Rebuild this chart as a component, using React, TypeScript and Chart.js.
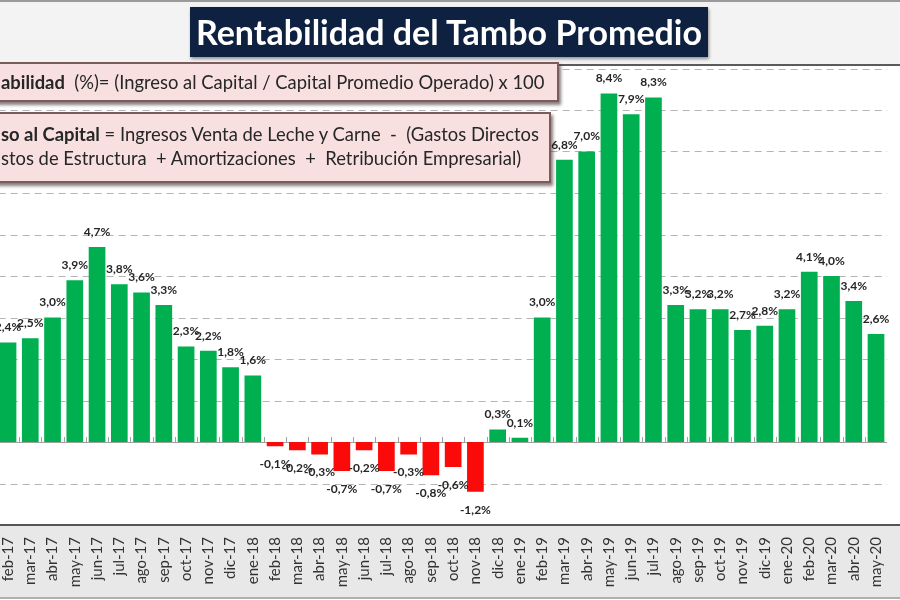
import React, { useEffect, useRef } from 'react';
import { Chart, registerables } from 'chart.js';

Chart.register(...registerables);

// ---- data ----
const months = [
  'ene-17', 'feb-17', 'mar-17', 'abr-17', 'may-17', 'jun-17', 'jul-17', 'ago-17', 'sep-17', 'oct-17', 'nov-17', 'dic-17',
  'ene-18', 'feb-18', 'mar-18', 'abr-18', 'may-18', 'jun-18', 'jul-18', 'ago-18', 'sep-18', 'oct-18', 'nov-18', 'dic-18',
  'ene-19', 'feb-19', 'mar-19', 'abr-19', 'may-19', 'jun-19', 'jul-19', 'ago-19', 'sep-19', 'oct-19', 'nov-19', 'dic-19',
  'ene-20', 'feb-20', 'mar-20', 'abr-20', 'may-20',
];

const rentabilidad: (number | null)[] = [
  null, 2.4, 2.5, 3.0, 3.9, 4.7, 3.8, 3.6, 3.3, 2.3, 2.2, 1.8,
  1.6, -0.1, -0.2, -0.3, -0.7, -0.2, -0.7, -0.3, -0.8, -0.6, -1.2, 0.3,
  0.1, 3.0, 6.8, 7.0, 8.4, 7.9, 8.3, 3.3, 3.2, 3.2, 2.7, 2.8,
  3.2, 4.1, 4.0, 3.4, 2.6,
];

const yMin = -2;
const yMax = 9;
const yStep = 1;

const titleText = 'Rentabilidad del Tambo Promedio';
const box1Bold = 'abilidad';
const box1Rest = '  (%)= (Ingreso al Capital / Capital Promedio Operado) x 100';
const box2Bold = 'so al Capital';
const box2Rest = ' = Ingresos Venta de Leche y Carne  -  (Gastos Directos';
const box2Line2 = 'stos de Estructura  + Amortizaciones  +  Retribución Empresarial)';

const GREEN = '#00b050';
const RED = '#fb0a0a';

const fmt = (v: number) => v.toFixed(1).replace('.', ',') + '%';

// dashed horizontal grid + solid zero axis with category tick marks, positioned via the y / x scales
const gridPlugin = {
  id: 'gridAndZero',
  beforeDatasetsDraw(chart: any) {
    const { ctx, chartArea, scales } = chart;
    const ys = scales.y;
    const xs = scales.x;
    ctx.save();
    ctx.strokeStyle = '#b4b4b4';
    ctx.lineWidth = 1;
    ctx.setLineDash([7, 5]);
    for (let v = yMin + yStep; v <= yMax; v += yStep) {
      if (v === 0) continue;
      const py = Math.round(ys.getPixelForValue(v)) + 0.5;
      ctx.beginPath();
      ctx.moveTo(chartArea.left, py);
      ctx.lineTo(chartArea.right, py);
      ctx.stroke();
    }
    const y0 = Math.round(ys.getPixelForValue(0));
    ctx.setLineDash([]);
    ctx.strokeStyle = '#a0a0a0';
    ctx.beginPath();
    ctx.moveTo(chartArea.left, y0 + 0.5);
    ctx.lineTo(chartArea.right, y0 + 0.5);
    for (let i = 0; i < months.length - 1; i++) {
      const bx = Math.round((xs.getPixelForTick(i) + xs.getPixelForTick(i + 1)) / 2) + 0.5;
      ctx.moveTo(bx, y0 - 5);
      ctx.lineTo(bx, y0 + 0.5);
    }
    ctx.stroke();
    ctx.restore();
  },
};

const labelPlugin = {
  id: 'valueLabels',
  afterDatasetsDraw(chart: any) {
    const { ctx } = chart;
    const meta = chart.getDatasetMeta(0);
    ctx.save();
    ctx.font = 'bold 12px Lato';
    ctx.fillStyle = '#262626';
    ctx.textAlign = 'center';
    ctx.textBaseline = 'middle';
    meta.data.forEach((el: any, i: number) => {
      const v = rentabilidad[i];
      if (v === null || v === undefined) return;
      const y = v >= 0 ? el.y - 15 : el.y + 18;
      ctx.fillText(fmt(v), el.x, y);
    });
    ctx.restore();
  },
};

export default function App() {
  const canvasRef = useRef<HTMLCanvasElement | null>(null);

  useEffect(() => {
    if (!canvasRef.current) return;
    const chart = new Chart(canvasRef.current, {
      type: 'bar',
      data: {
        labels: months,
        datasets: [
          {
            data: rentabilidad as any,
            backgroundColor: rentabilidad.map((v) => ((v ?? 0) < 0 ? RED : GREEN)),
            borderWidth: 0,
            barPercentage: 0.75,
            categoryPercentage: 1,
          },
        ],
      },
      options: {
        responsive: false,
        animation: false,
        devicePixelRatio: 1,
        layout: { padding: { top: 68.5, left: 0, right: 0, bottom: 0 } },
        plugins: {
          legend: { display: false },
          title: { display: false },
          tooltip: { enabled: false },
        },
        scales: {
          x: {
            offset: true,
            grid: { display: false, drawTicks: false },
            border: { display: false },
            ticks: {
              autoSkip: false,
              maxRotation: 90,
              minRotation: 90,
              padding: 12,
              color: '#333333',
              font: { family: 'Lato', size: 15 },
            },
            afterFit: (s: any) => {
              s.height = 75;
            },
          },
          y: {
            min: yMin,
            max: yMax,
            ticks: { display: false, stepSize: yStep },
            grid: { display: false, drawTicks: false },
            border: { display: false },
          },
        },
      },
      plugins: [gridPlugin, labelPlugin],
    });
    return () => chart.destroy();
  }, []);

  const boxStyle: React.CSSProperties = {
    position: 'absolute',
    background: '#f8e0e0',
    border: '2px solid #7a5c5c',
    boxShadow: '2px 3px 3px rgba(40,20,20,0.55)',
    fontFamily: 'Lato, sans-serif',
    fontSize: 18.4,
    color: '#262626',
    whiteSpace: 'pre',
    boxSizing: 'border-box',
  };

  return (
    <div
      style={{
        position: 'fixed',
        left: 0,
        top: 0,
        width: 900,
        height: 600,
        overflow: 'hidden',
        background: '#ffffff',
      }}
    >
      <div
        style={{
          position: 'absolute',
          left: 0,
          top: 0,
          width: 900,
          height: 66,
          background: '#f3f3f3',
          borderTop: '2px solid #9a9a9a',
          borderBottom: '2px solid #5a5a5a',
          boxSizing: 'border-box',
        }}
      />
      <div
        style={{
          position: 'absolute',
          left: 0,
          top: 524,
          width: 900,
          height: 75,
          background: '#e8e8e8',
          borderTop: '2px solid #555555',
          borderBottom: '2px solid #b0b0b0',
          boxSizing: 'border-box',
        }}
      />
      <canvas
        ref={canvasRef}
        width={932}
        height={600}
        style={{ position: 'absolute', left: -26, top: 0, width: 932, height: 600 }}
      />
      <div
        style={{
          position: 'absolute',
          left: 190,
          top: 7,
          width: 518,
          height: 50,
          background: '#0f2140',
          color: '#ffffff',
          fontFamily: 'Lato, sans-serif',
          fontWeight: 700,
          fontSize: 34,
          lineHeight: '50px',
          textAlign: 'center',
          whiteSpace: 'nowrap',
          boxShadow: '1px 2px 3px rgba(0,0,0,0.4)',
        }}
      >
        {titleText}
      </div>
      <div style={{ ...boxStyle, left: -6, top: 62, width: 565, height: 40, lineHeight: '36px', paddingLeft: 5 }}>
        <b>{box1Bold}</b>
        {box1Rest}
      </div>
      <div style={{ ...boxStyle, left: -6, top: 112, width: 557, height: 71, lineHeight: '24px', paddingLeft: 5, paddingTop: 8 }}>
        <div>
          <b>{box2Bold}</b>
          {box2Rest}
        </div>
        <div>{box2Line2}</div>
      </div>
    </div>
  );
}
